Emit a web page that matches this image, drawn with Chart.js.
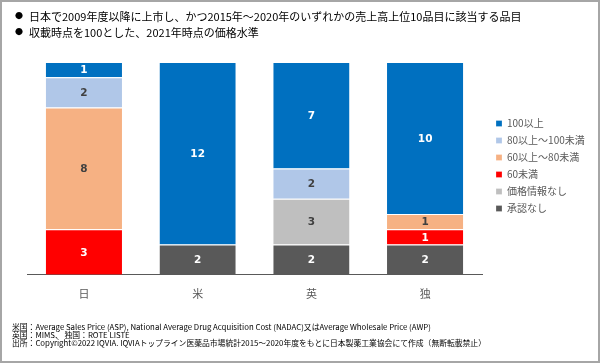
<!DOCTYPE html>
<html>
<head>
<meta charset="utf-8">
<script src="https://cdn.jsdelivr.net/npm/chart.js@4/dist/chart.umd.min.js"></script>
<style>
  html, body { margin: 0; padding: 0; background: #fff; }
  #frame {
    position: relative; width: 600px; height: 363px; box-sizing: border-box;
    border: 2px solid #a6a6a6; overflow: hidden;
    font-family: 'Noto Sans CJK JP', sans-serif;
  }
  #chartBox { position: absolute; left: -2px; top: -2px; width: 600px; height: 363px; }
  .head { position: absolute; left: 27px; font-size: 11px; color: #000; white-space: nowrap; line-height: 16px; }
  .dot { position: absolute; left: 13px; font-size: 8px; line-height: 16px; color: #000; }
  .foot { position: absolute; left: 10px; top: 321px; font-size: 7.8px; color: #000; line-height: 8px; white-space: nowrap; }
</style>
</head>
<body>
<div id="frame">
  <div id="chartBox"><canvas id="c"></canvas></div>
  <div class="dot" style="top:6px">●</div>
  <div class="head" style="top:6px">日本で2009年度以降に上市し、かつ2015年～2020年のいずれかの売上高上位10品目に該当する品目</div>
  <div class="dot" style="top:22px">●</div>
  <div class="head" style="top:22px">収載時点を100とした、2021年時点の価格水準</div>
  <div class="foot">
    米国：Average Sales Price (ASP), National Average Drug Acquisition Cost (NADAC)又はAverage Wholesale Price (AWP)<br>
    英国：MIMS、 独国：ROTE LISTE<br>
    出所：Copyright©2022 IQVIA. IQVIAトップライン医薬品市場統計2015～2020年度をもとに日本製薬工業協会にて作成（無断転載禁止）
  </div>
</div>
<script>
// countries
const categories = ['日', '米', '英', '独']
// series, bottom of stack first
const noApproval = [0, 2, 2, 2]      // 承認なし
const noPriceInfo = [0, 0, 3, 0]     // 価格情報なし
const under60 = [3, 0, 0, 1]         // 60未満
const from60to80 = [8, 0, 0, 1]      // 60以上～80未満
const from80to100 = [2, 0, 2, 0]     // 80以上～100未満
const over100 = [1, 12, 7, 10]       // 100以上

const mk = (label, data, color, textColor) => ({
  label, data,
  backgroundColor: color,
  borderColor: '#ffffff',
  borderWidth: { top: 1, left: 0, right: 0, bottom: 0 },
  borderSkipped: 'start',
  barPercentage: 0.67,
  categoryPercentage: 1,
  _textColor: textColor
})

const datasets = [
  mk('承認なし', noApproval, '#595959', '#ffffff'),
  mk('価格情報なし', noPriceInfo, '#bfbfbf', '#404040'),
  mk('60未満', under60, '#ff0000', '#ffffff'),
  mk('60以上～80未満', from60to80, '#f6b183', '#404040'),
  mk('80以上～100未満', from80to100, '#b0c7e8', '#404040'),
  mk('100以上', over100, '#0070c0', '#ffffff')
]

// value labels in the middle of each segment
const segLabels = {
  id: 'segLabels',
  afterDatasetsDraw(chart) {
    const c = chart.ctx
    c.save()
    c.font = 'bold 10.5px "DejaVu Sans", sans-serif'
    c.textAlign = 'center'
    c.textBaseline = 'middle'
    chart.data.datasets.forEach((ds, i) => {
      chart.getDatasetMeta(i).data.forEach((bar, j) => {
        const v = ds.data[j]
        if (!v) return
        const { x, y, base } = bar.getProps(['x', 'y', 'base'], true)
        c.fillStyle = ds._textColor
        c.fillText(String(v), x, (y + base) / 2 + 1)
      })
    })
    c.restore()
  }
}

// fixed legend width so the plot ends where it should, then nudge the legend
const legendFix = {
  id: 'legendFix',
  beforeInit(chart) {
    const fit = chart.legend.fit
    chart.legend.fit = function () { fit.call(this); this.width = 118 }
  },
  afterLayout(chart) {
    const lg = chart.legend
    lg.left += 7; lg.right += 7
    lg.top -= 21; lg.bottom -= 21
  }
}

new Chart(document.getElementById('c'), {
  type: 'bar',
  data: { labels: categories, datasets },
  options: {
    responsive: true,
    maintainAspectRatio: false,
    animation: false,
    layout: { padding: { left: 27, top: 62, right: 0, bottom: 51 } },
    plugins: {
      legend: {
        position: 'right',
        reverse: true,
        labels: {
          boxWidth: 6, boxHeight: 6, padding: 7,
          color: '#595959',
          font: { family: "'Noto Sans CJK JP', sans-serif", size: 10 }
        }
      },
      tooltip: { enabled: false }
    },
    scales: {
      x: {
        stacked: true,
        grid: { display: false, drawTicks: false },
        border: { display: true, color: '#595959', width: 1 },
        ticks: { color: '#595959', padding: 12, font: { family: "'Noto Sans CJK JP', sans-serif", size: 11 } }
      },
      y: {
        stacked: true,
        display: false,
        min: 0, max: 14
      }
    }
  },
  plugins: [segLabels, legendFix]
})
</script>
</body>
</html>
